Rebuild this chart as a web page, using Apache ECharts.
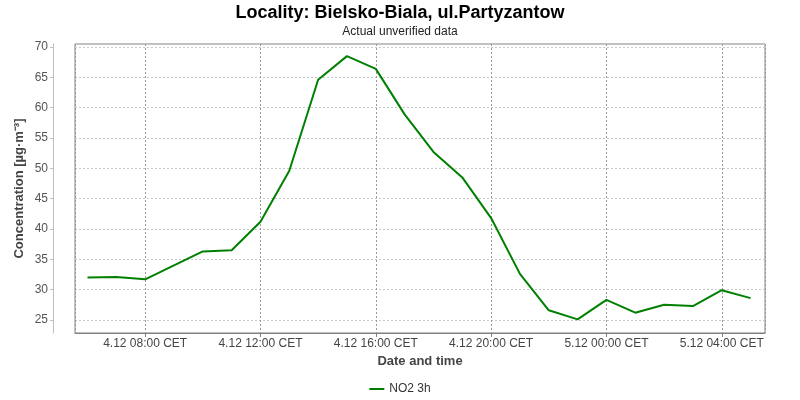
<!DOCTYPE html>
<html>
<head>
<meta charset="utf-8">
<script src="https://cdn.jsdelivr.net/npm/echarts@6/dist/echarts.min.js"></script>
<style>
html,body{margin:0;padding:0;background:#fff;}
#c{width:800px;height:400px;}
</style>
</head>
<body>
<div id="c"></div>
<script>
// Data (4.12 06:00 CET .. 5.12 05:00 CET, hourly)
var startDay = [2024, 11, 4];
var hours = [6,7,8,9,10,11,12,13,14,15,16,17,18,19,20,21,22,23,24,25,26,27,28,29];
var no2 = [32.0,32.1,31.7,34.0,36.3,36.5,41.2,49.6,64.6,68.5,66.4,58.9,52.7,48.5,41.8,32.6,26.6,25.1,28.3,26.2,27.5,27.3,29.9,28.6];
var seriesName = 'NO2 3h';
var yTicks = [25,30,35,40,45,50,55,60,65,70];

function ts(h){ return new Date(startDay[0], startDay[1], startDay[2], 0, 0).getTime() + h*3600000; }
var seriesData = hours.map(function(h,i){ return [ts(h), no2[i]]; });

var font = 'Liberation Sans, Arial, sans-serif';
var chart = echarts.init(document.getElementById('c'), null, {renderer:'canvas'});
function pad(n){ return (n<10?'0':'')+n; }
chart.setOption({
  animation:false,
  backgroundColor:'#fff',
  title:{
    text:'Locality: Bielsko-Biala, ul.Partyzantow',
    subtext:'Actual unverified data',
    left:'center', top:-1,
    itemGap:4,
    textStyle:{fontFamily:font,fontWeight:'bold',fontSize:18,color:'#000'},
    subtextStyle:{fontFamily:font,fontSize:12,color:'#222'}
  },
  legend:{
    bottom:0, left:'center',
    itemWidth:15, itemHeight:2, itemGap:5,
    icon:'rect',
    textStyle:{fontFamily:font,fontSize:12,color:'#333'},
    data:[seriesName]
  },
  grid:{left:75,right:35,top:44,bottom:67,show:true,borderColor:'#808080',borderWidth:1,backgroundColor:'#fff'},
  xAxis:{
    type:'time',
    min: ts(5 + 34/60),
    max: ts(29 + 30/60),
    minInterval:4*3600000, maxInterval:4*3600000,
    name:'Date and time', nameLocation:'middle', nameGap:21,
    nameTextStyle:{fontFamily:font,fontWeight:'bold',fontSize:13,color:'#444',verticalAlign:'top'},
    axisLine:{show:true,lineStyle:{color:'#808080'}},
    axisTick:{show:true,length:4,lineStyle:{color:'#808080'}},
    axisLabel:{fontFamily:font,fontSize:12,color:'#444',margin:5,
      formatter:function(v){ var d=new Date(v); return d.getDate()+'.'+(d.getMonth()+1)+' '+pad(d.getHours())+':'+pad(d.getMinutes())+' CET'; },
      showMinLabel:false, showMaxLabel:false},
    splitLine:{show:true,lineStyle:{color:'#999',type:[2,2],width:1}},
    minorTick:{show:false}
  },
  yAxis:{
    type:'value',
    min:22.85, max:70.5,
    splitNumber:10,
    offset:22,
    name:'Concentration [µg·m⁻³]', nameLocation:'middle', nameGap:27, nameMoveOverlap:false,
    nameTextStyle:{fontFamily:font,fontWeight:'bold',fontSize:13,color:'#444'},
    axisLine:{show:true,lineStyle:{color:'#c0c0c0'}},
    axisTick:{show:true,length:3,lineStyle:{color:'#c0c0c0'}},
    axisLabel:{fontFamily:font,fontSize:12,color:'#555',margin:5,showMinLabel:false,showMaxLabel:false},
    splitLine:{show:true,lineStyle:{color:'#c8c8c8',type:[2,2],width:1}}
  },
  series:[{
    name:seriesName, type:'line', data:seriesData,
    symbol:'none', lineStyle:{color:'#008000',width:2}, itemStyle:{color:'#008000'}
  }]
});
</script>
</body>
</html>
